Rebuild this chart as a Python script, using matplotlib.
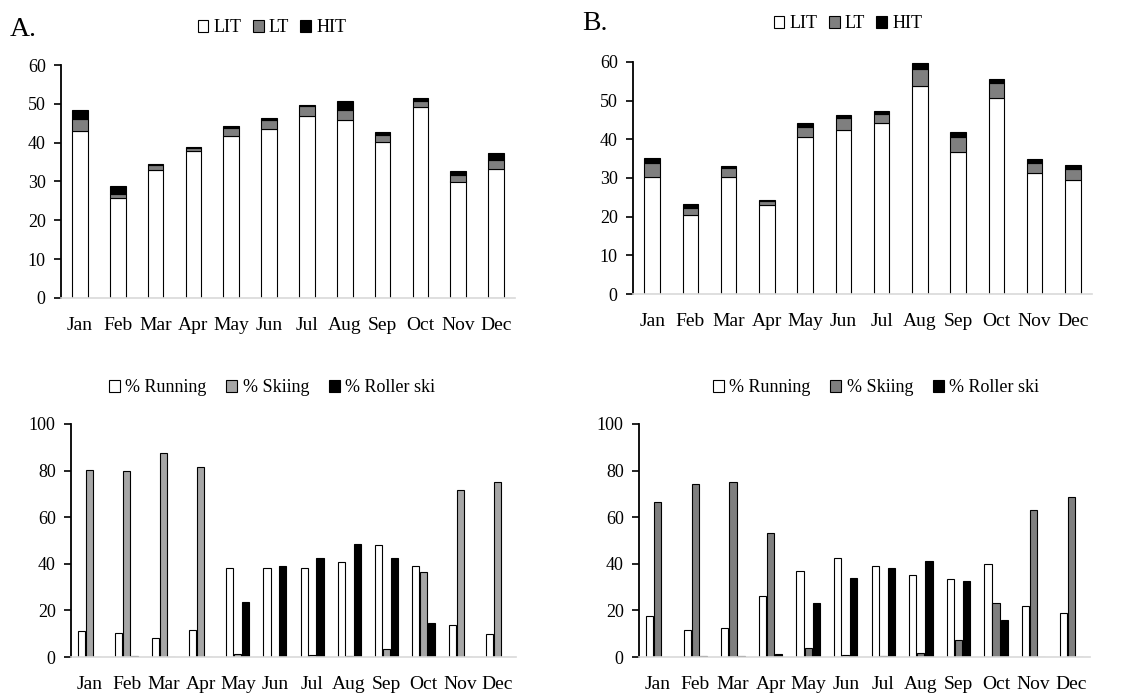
import numpy as np
import matplotlib
matplotlib.use("Agg")
import matplotlib.pyplot as plt
from matplotlib.patches import Patch

plt.rcParams['font.family'] = ['Liberation Serif', 'DejaVu Serif']

months = ["Jan", "Feb", "Mar", "Apr", "May", "Jun", "Jul", "Aug", "Sep", "Oct", "Nov", "Dec"]

# Panel A: weekly hours by intensity zone (stack components)
a_lit = [42.9, 25.7, 33.0, 37.9, 41.7, 43.5, 46.9, 45.8, 40.2, 49.2, 30.0, 33.3]
a_lt = [3.1, 1.2, 1.2, 0.8, 2.1, 2.3, 2.5, 2.5, 1.7, 1.6, 1.8, 2.2]
a_hit = [2.4, 1.9, 0.3, 0.2, 0.6, 0.6, 0.3, 2.4, 0.9, 0.7, 0.8, 1.9]

# Panel B
b_lit = [30.2, 20.5, 30.2, 23.0, 40.5, 42.3, 44.1, 53.8, 36.8, 50.8, 31.3, 29.4]
b_lt = [3.8, 1.7, 2.4, 1.0, 2.7, 3.2, 2.4, 4.5, 3.9, 3.7, 2.6, 2.8]
b_hit = [1.1, 1.2, 0.6, 0.4, 0.9, 0.9, 0.9, 1.4, 1.1, 1.1, 1.0, 1.2]

# Training mode distribution (%)
a_running = [11.1, 10.3, 8.3, 11.7, 38.4, 38.0, 38.4, 40.6, 47.9, 38.9, 13.7, 10.0]
a_skiing = [80.1, 79.7, 87.4, 81.7, 1.4, 0.0, 0.7, 0.3, 3.6, 36.3, 71.6, 74.9]
a_roller = [0.0, 0.3, 0.0, 0.0, 23.6, 38.9, 42.3, 48.3, 42.3, 14.6, 0.0, 0.0]

b_running = [17.6, 11.7, 12.4, 26.1, 37.1, 42.6, 38.9, 35.4, 33.3, 39.7, 21.7, 18.7]
b_skiing = [66.4, 74.1, 75.3, 53.3, 4.0, 0.7, 0.3, 1.9, 7.4, 23.0, 63.1, 68.7]
b_roller = [0.0, 0.3, 0.3, 1.4, 23.1, 34.1, 38.4, 41.4, 32.6, 15.7, 0.0, 0.0]

W, H = 1142, 693
fig = plt.figure(figsize=(W / 100, H / 100), dpi=100)


def px_axes(x0, x1, ytop, ybot):
    return fig.add_axes([x0 / W, 1 - ybot / H, (x1 - x0) / W, (ybot - ytop) / H])


def style(ax, ymax, step):
    ax.set_xlim(-0.5, 11.5)
    ax.set_ylim(0, ymax)
    ax.set_yticks(np.arange(0, ymax + 1, step))
    ax.set_xticks(range(12))
    ax.set_xticklabels(months, fontsize=14)
    ax.tick_params(axis='x', length=0, pad=14)
    ax.tick_params(axis='y', length=5, width=1.2, labelsize=13, pad=6, direction='out')
    for s in ("top", "right"):
        ax.spines[s].set_visible(False)
    ax.spines['left'].set_linewidth(1.3)
    ax.spines['bottom'].set_color('#d9d9d9')
    ax.spines['bottom'].set_linewidth(1.2)


def stacked(ax, lit, lt, hit):
    x = np.arange(12)
    lit = np.array(lit); lt = np.array(lt); hit = np.array(hit)
    kw = dict(width=0.41, edgecolor='black', linewidth=0.8)
    ax.bar(x, lit, color='white', **kw)
    ax.bar(x, lt, bottom=lit, color='#7f7f7f', **kw)
    ax.bar(x, hit, bottom=lit + lt, color='black', **kw)


def grouped(ax, run, ski, roll, ski_color):
    x = np.arange(12)
    w = 0.19
    kw = dict(width=w, edgecolor='black', linewidth=0.8)
    ax.bar(x - 0.215, run, color='white', **kw)
    ax.bar(x, ski, color=ski_color, **kw)
    ax.bar(x + 0.215, roll, color='black', **kw)


def legend(labels, colors, xc, yc, colspace):
    handles = [Patch(facecolor=c, edgecolor='black', linewidth=0.8) for c in colors]
    fig.legend(handles, labels, loc='center', bbox_to_anchor=(xc / W, 1 - yc / H),
               ncol=3, frameon=False, fontsize=13, handlelength=0.6, handleheight=0.6,
               handletextpad=0.3, columnspacing=colspace, borderpad=0)


ax1 = px_axes(61, 515, 65, 298)
stacked(ax1, a_lit, a_lt, a_hit)
style(ax1, 60, 10)

ax2 = px_axes(633, 1092, 62, 294)
stacked(ax2, b_lit, b_lt, b_hit)
style(ax2, 60, 10)

ax3 = px_axes(71, 516, 424, 657)
grouped(ax3, a_running, a_skiing, a_roller, '#a6a6a6')
style(ax3, 100, 20)

ax4 = px_axes(639, 1090, 424, 657)
grouped(ax4, b_running, b_skiing, b_roller, '#7f7f7f')
style(ax4, 100, 20)

legend(["LIT", "LT", "HIT"], ['white', '#7f7f7f', 'black'], 272, 28, 0.6)
legend(["LIT", "LT", "HIT"], ['white', '#7f7f7f', 'black'], 848, 24, 0.6)
legend(["% Running", "% Skiing", "% Roller ski"], ['white', '#a6a6a6', 'black'], 272, 388, 1.1)
legend(["% Running", "% Skiing", "% Roller ski"], ['white', '#7f7f7f', 'black'], 876, 388, 1.1)

fig.text(10 / W, 1 - 30 / H, "A.", fontsize=20, va='center', ha='left')
fig.text(582 / W, 1 - 24 / H, "B.", fontsize=20, va='center', ha='left')

fig.savefig("out.png", dpi=100, facecolor='white')
